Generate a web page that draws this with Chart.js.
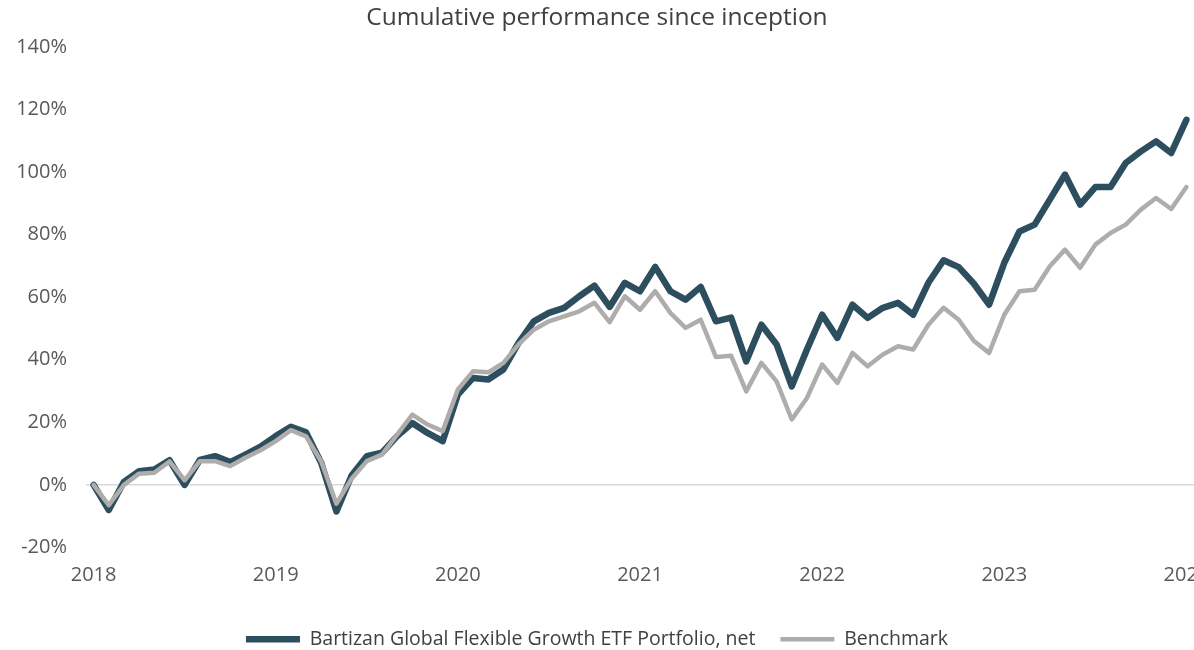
<!DOCTYPE html>
<html>
<head>
<meta charset="utf-8">
<script src="https://cdn.jsdelivr.net/npm/chart.js@4.4.1/dist/chart.umd.min.js"></script>
<style>
  html, body { margin: 0; padding: 0; background: #ffffff; overflow: hidden; }
  #wrap { width: 1208px; height: 659px; position: relative; }
</style>
</head>
<body>
<div id="wrap"><canvas id="perfChart"></canvas></div>
<script>
// monthly observations, Jan 2018 .. Jan 2024
const months = [
  "2018-01","2018-02","2018-03","2018-04","2018-05","2018-06","2018-07","2018-08","2018-09","2018-10","2018-11","2018-12",
  "2019-01","2019-02","2019-03","2019-04","2019-05","2019-06","2019-07","2019-08","2019-09","2019-10","2019-11","2019-12",
  "2020-01","2020-02","2020-03","2020-04","2020-05","2020-06","2020-07","2020-08","2020-09","2020-10","2020-11","2020-12",
  "2021-01","2021-02","2021-03","2021-04","2021-05","2021-06","2021-07","2021-08","2021-09","2021-10","2021-11","2021-12",
  "2022-01","2022-02","2022-03","2022-04","2022-05","2022-06","2022-07","2022-08","2022-09","2022-10","2022-11","2022-12",
  "2023-01","2023-02","2023-03","2023-04","2023-05","2023-06","2023-07","2023-08","2023-09","2023-10","2023-11","2023-12",
  "2024-01"
];

// cumulative return, %
const portfolio = [
  0, -8, 1, 4.4, 4.9, 7.9, 0, 8, 9.2, 7.3, 9.7, 12.2,
  15.6, 18.6, 16.8, 7, -8.5, 3, 9.2, 10.3, 15.6, 19.8, 16.6, 14,
  28.9, 34.2, 33.7, 36.9, 45.4, 52.3, 55, 56.6, 60.3, 63.7, 56.9, 64.6,
  61.9, 69.7, 61.9, 59.2, 63.3, 52.3, 53.5, 39.5, 51.2, 44.9, 31.5, 43.3,
  54.4, 47, 57.6, 53.4, 56.6, 58.2, 54.4, 64.6, 71.8, 69.6, 64.3, 57.6,
  71, 81, 83.2, 91.2, 99.2, 89.6, 95.2, 95.2, 102.9, 106.6, 109.8, 106.1,
  116.7
];

const benchmark = [
  0, -6.5, 0, 3.6, 3.9, 7.5, 1.5, 7.6, 7.6, 6, 8.7, 11.1,
  14, 17.5, 15.5, 7.5, -6, 2, 7.6, 9.7, 16.1, 22.5, 19.3, 17.2,
  30.5, 36.3, 36, 39, 44.9, 49.6, 52.3, 53.9, 55.5, 58.2, 52, 60.3,
  56, 61.9, 55, 50.2, 52.8, 40.9, 41.3, 29.9, 39, 33.1, 20.9, 27.8,
  38.5, 32.6, 42.2, 37.9, 41.7, 44.3, 43.3, 51.2, 56.6, 52.8, 46, 42.2,
  54.4, 61.9, 62.4, 69.9, 75.2, 69.4, 76.8, 80.5, 83.2, 88, 91.7, 88.2,
  95.2
];

const seriesNames = ["Bartizan Global Flexible Growth ETF Portfolio, net", "Benchmark"];

const darkBlue = "#2d4e5e";
const lightGray = "#afacac";
const textGray = "#595959";
const fontFamily = "'Open Sans', 'Liberation Sans', sans-serif";

new Chart(document.getElementById("perfChart"), {
  type: "line",
  data: {
    labels: months,
    datasets: [
      {
        label: seriesNames[0],
        data: portfolio,
        borderColor: darkBlue,
        backgroundColor: darkBlue,
        borderWidth: 6.5,
        order: 2
      },
      {
        label: seriesNames[1],
        data: benchmark,
        borderColor: lightGray,
        backgroundColor: lightGray,
        borderWidth: 4.5,
        order: 1
      }
    ]
  },
  options: {
    responsive: true,
    maintainAspectRatio: false,
    animation: false,
    layout: { padding: { left: 0, right: 14, top: 0, bottom: 0 } },
    elements: {
      point: { radius: 0, hoverRadius: 0 },
      line: { tension: 0, borderJoinStyle: "round", borderCapStyle: "round", fill: false }
    },
    scales: {
      x: {
        type: "category",
        offset: true,
        grid: { display: false, drawTicks: false },
        border: { display: false },
        ticks: {
          autoSkip: false,
          maxRotation: 0,
          padding: 16,
          color: textGray,
          font: { family: fontFamily, size: 20 },
          callback: function(value) {
            let lbl = this.getLabelForValue(value);
            return lbl.endsWith("-01") ? lbl.slice(0, 4) : "";
          }
        },
        afterFit: function(scale) {
          scale.height = 57;
          scale.paddingLeft = 0;
          scale.paddingRight = 0;
        }
      },
      y: {
        min: -20,
        max: 140,
        grid: {
          drawTicks: false,
          lineWidth: 1.5,
          color: (ctx) => (ctx.tick && ctx.tick.value === 0) ? "#d9d9d9" : "rgba(0,0,0,0)"
        },
        border: { display: false },
        ticks: {
          stepSize: 20,
          padding: 19,
          color: textGray,
          font: { family: fontFamily, size: 20 },
          callback: (v) => v + "%"
        },
        afterFit: function(scale) {
          scale.width = 86;
        }
      }
    },
    plugins: {
      title: {
        display: true,
        text: "Cumulative performance since inception",
        color: "#404040",
        font: { family: fontFamily, size: 24.5, weight: "normal" },
        padding: { top: 3, bottom: 14.5 }
      },
      legend: {
        position: "bottom",
        labels: {
          usePointStyle: true,
          pointStyle: "line",
          pointStyleWidth: 54,
          padding: 25,
          color: "#404040",
          font: { family: fontFamily, size: 19.5 },
          sort: (a, b) => a.datasetIndex - b.datasetIndex
        }
      },
      tooltip: { enabled: false }
    }
  }
});
</script>
</body>
</html>
